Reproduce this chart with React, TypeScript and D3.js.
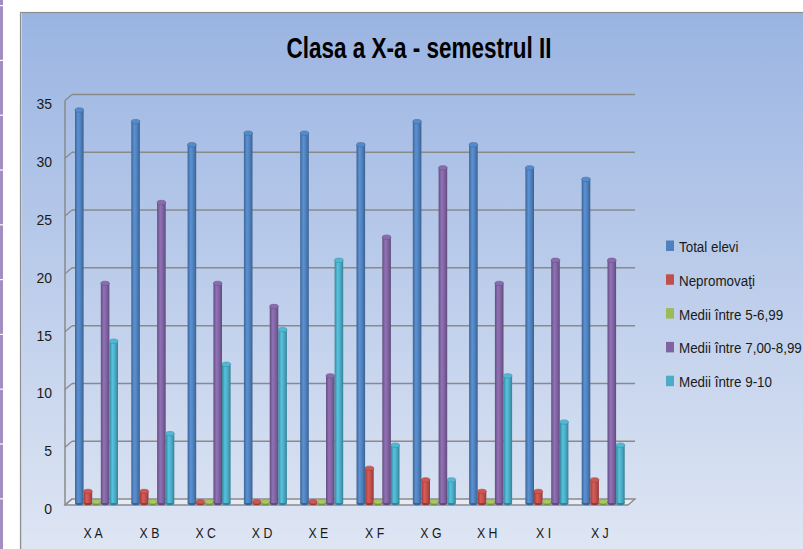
import React from "react";
import * as d3 from "d3";

const categories = ["X A", "X B", "X C", "X D", "X E", "X F", "X G", "X H", "X I", "X J"];
const seriesNames = ["Total elevi", "Nepromovaţi", "Medii între 5-6,99", "Medii între 7,00-8,99", "Medii între 9-10"];
const totalElevi = [34, 33, 31, 32, 32, 31, 33, 31, 29, 28];
const nepromovati = [1, 1, 0, 0, 0, 3, 2, 1, 1, 2];
const medii5 = [0, 0, 0, 0, 0, 0, 0, 0, 0, 0];
const medii7 = [19, 26, 19, 17, 11, 23, 29, 19, 21, 21];
const medii9 = [14, 6, 12, 15, 21, 5, 2, 11, 7, 5];
const yTicks = [0, 5, 10, 15, 20, 25, 30, 35];
const seriesColors = ["#4f81bd", "#c0504d", "#9bbb59", "#8064a2", "#4bacc6"];
const title = "Clasa a X-a - semestrul II";

const seriesValues = [totalElevi, nepromovati, medii5, medii7, medii9];

export default function App() {
  const W = 803, H = 549;
  // front plane
  const x0 = 65, x1 = 628;
  const depthX = 7, depthY = 6;
  const yFront = d3.scaleLinear().domain([0, 35]).range([505, 100.5]);
  const yBar = d3.scaleLinear().domain([0, 35]).range([503, 98.5]);
  const xBand = d3.scaleBand<string>().domain(categories).range([x0, x1]);
  const xSeries = d3.scaleBand<string>().domain(seriesNames).range([10, 53]);
  const bw = xSeries.bandwidth();
  const font = "'Liberation Sans', Arial, sans-serif";

  const stripeGaps = d3.range(5, H, 54.8);

  return (
    <svg width={W} height={H} style={{ position: "absolute", left: 0, top: 0, display: "block" }}>
      <defs>
        <linearGradient id="bg" x1="0" y1="0" x2="0" y2="1">
          <stop offset="0%" stopColor="#9ab4e2" />
          <stop offset="100%" stopColor="#e0e7f4" />
        </linearGradient>
        {seriesColors.map((c, i) => {
          const col = d3.color(c)!;
          return (
            <linearGradient key={i} id={`cyl${i}`} x1="0" y1="0" x2="1" y2="0">
              <stop offset="0%" stopColor={col.darker(0.7).formatHex()} />
              <stop offset="35%" stopColor={col.brighter(0.35).formatHex()} />
              <stop offset="65%" stopColor={col.formatHex()} />
              <stop offset="100%" stopColor={col.darker(0.8).formatHex()} />
            </linearGradient>
          );
        })}
      </defs>
      <rect x={0} y={0} width={W} height={H} fill="#ffffff" />
      {/* left purple strip */}
      <rect x={0} y={0} width={3} height={H} fill="#a48dc1" />
      {stripeGaps.map((g, i) => (
        <rect key={i} x={0} y={g} width={3} height={1.2} fill="#ffffff" />
      ))}
      {/* chart area */}
      <rect x={20.5} y={12.5} width={W} height={H} fill="url(#bg)" stroke="#8e8e8e" strokeWidth={1.2} />
      <line x1={21.5} y1={13} x2={21.5} y2={H} stroke="#c8d2e6" strokeWidth={1} />

      {/* title */}
      <text
        x={419}
        y={58}
        textAnchor="middle"
        fontFamily={font}
        fontWeight="bold"
        fontSize={29}
        fill="#000"
        textLength={265}
        lengthAdjust="spacingAndGlyphs"
      >
        {title}
      </text>

      {/* floor */}
      <path
        d={`M${x0},${yFront(0)} L${x1},${yFront(0)} L${x1 + depthX},${yFront(0) - depthY} L${x0 + depthX},${yFront(0) - depthY} Z`}
        fill="#e6ebf4"
        stroke="#8a8a8a"
        strokeWidth={1.3}
      />
      {/* gridlines + side wall diagonals */}
      {yTicks.map((t) => {
        const yf = yFront(t);
        const yb = yf - depthY;
        return (
          <g key={t}>
            {t > 0 && (
              <line x1={x0 + depthX} y1={yb} x2={x1 + depthX} y2={yb} stroke="#8a8a8a" strokeWidth={1.5} />
            )}
            <line x1={x0} y1={yf} x2={x0 + depthX} y2={yb} stroke="#8a8a8a" strokeWidth={1.3} />
          </g>
        );
      })}
      <line x1={x0} y1={yFront(35)} x2={x0} y2={yFront(0)} stroke="#8a8a8a" strokeWidth={1.5} />

      {/* y tick labels */}
      {yTicks.map((t) => (
        <text
          key={t}
          x={52}
          y={yFront(t) + 4}
          dy="0.35em"
          textAnchor="end"
          fontFamily={font}
          fontSize={14}
          fill="#1a1a1a"
        >
          {t}
        </text>
      ))}

      {/* bars */}
      {categories.map((cat, ci) => (
        <g key={cat} transform={`translate(${xBand(cat)},0)`}>
          {seriesNames.map((s, si) => {
            const v = seriesValues[si][ci];
            const bx = xSeries(s)!;
            const yt = yBar(v);
            const yb = yBar(0);
            const ry = 2.2;
            const col = d3.color(seriesColors[si])!;
            const h = Math.max(yb - yt, 1.2);
            const top = yb - h;
            return (
              <g key={s}>
                <ellipse cx={bx + bw / 2} cy={yb} rx={bw / 2} ry={ry} fill={col.darker(0.8).formatHex()} />
                <rect x={bx} y={top} width={bw} height={h} fill={`url(#cyl${si})`} />
                <ellipse
                  cx={bx + bw / 2}
                  cy={top}
                  rx={bw / 2}
                  ry={ry}
                  fill={col.brighter(0.2).formatHex()}
                  stroke={col.darker(0.5).formatHex()}
                  strokeWidth={0.6}
                />
              </g>
            );
          })}
        </g>
      ))}

      {/* category labels */}
      {categories.map((cat) => (
        <g key={cat} transform={`translate(${xBand(cat)! + xBand.bandwidth() / 2},538) scale(0.88,1)`}>
          <text textAnchor="middle" fontFamily={font} fontSize={14} fill="#1a1a1a">
            {cat}
          </text>
        </g>
      ))}

      {/* legend */}
      {seriesNames.map((s, i) => {
        const by = 252 + i * 33.8;
        return (
          <g key={s}>
            <rect x={666} y={by - 11.5} width={8} height={10.5} fill={seriesColors[i]} />
            <g transform={`translate(679,${by}) scale(0.87,1)`}>
              <text fontFamily={font} fontSize={15.4} fill="#1a1a1a">
                {s}
              </text>
            </g>
          </g>
        );
      })}
    </svg>
  );
}
